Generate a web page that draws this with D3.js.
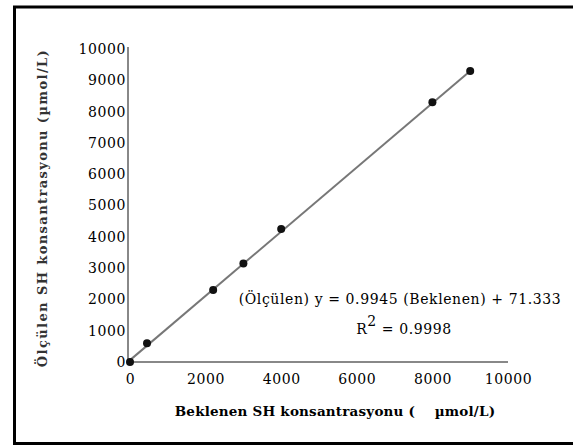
<!DOCTYPE html>
<html>
<head>
<meta charset="utf-8">
<script src="https://cdn.jsdelivr.net/npm/d3@7"></script>
<style>
  body { margin: 0; background: #fff; }
  svg { display: block; }
</style>
</head>
<body>
<svg width="573" height="446"></svg>
<script>
// measured points (expected vs measured SH, umol/L)
var expected = [0, 450, 2200, 3000, 4000, 8000, 9000];
var measured = [0, 600, 2300, 3150, 4250, 8300, 9300];
var xTicks = [0, 2000, 4000, 6000, 8000, 10000];
var yTicks = [0, 1000, 2000, 3000, 4000, 5000, 6000, 7000, 8000, 9000, 10000];
// trend line ends as drawn in the picture
var trendX = [0, 9000];
var trendY = [60, 9300];

var svg = d3.select("svg"),
    margin = {top: 49, right: 65, bottom: 84, left: 130},
    width = +svg.attr("width") - margin.left - margin.right,
    height = +svg.attr("height") - margin.top - margin.bottom;

// outer frame (right edge runs off the picture)
svg.append("rect")
    .attr("x", 14.5).attr("y", 7)
    .attr("width", 600).attr("height", 436.5)
    .attr("fill", "none")
    .attr("stroke", "#000")
    .attr("stroke-width", 3);

var x = d3.scaleLinear().domain([0, 10000]).range([0, 378]),
    y = d3.scaleLinear().domain([0, 10000]).range([height, 0]);

var g = svg.append("g")
    .attr("transform", "translate(" + margin.left + "," + margin.top + ")");

var font = "DejaVu Serif";

var xAxis = g.append("g")
    .attr("transform", "translate(0," + height + ")")
    .call(d3.axisBottom(x).tickValues(xTicks).tickSize(0).tickPadding(12).tickFormat(d3.format("d")));
xAxis.select(".domain").attr("stroke", "#888").attr("stroke-width", 2).attr("d", "M-2,0H" + x(10000));
xAxis.selectAll("text").attr("font-family", font).attr("font-size", 14)
    .attr("letter-spacing", 0.6).attr("fill", "#000");

var yAxis = g.append("g")
    .call(d3.axisLeft(y).tickValues(yTicks).tickSize(0).tickPadding(4).tickFormat(d3.format("d")));
yAxis.select(".domain").attr("stroke", "#888").attr("stroke-width", 2).attr("d", "M-2," + height + "V-2");
yAxis.selectAll("text").attr("font-family", font).attr("font-size", 14)
    .attr("letter-spacing", 0.6).attr("fill", "#000");

// trend line
var line = d3.line()
    .x(function (d) { return x(d[0]); })
    .y(function (d) { return y(d[1]); });
g.append("path")
    .datum(trendX.map(function (d, i) { return [d, trendY[i]]; }))
    .attr("d", line)
    .attr("fill", "none")
    .attr("stroke", "#777")
    .attr("stroke-width", 2);

var pts = expected.map(function (d, i) { return [d, measured[i]]; });
g.selectAll("circle.pt")
    .data(pts)
    .enter().append("circle")
    .attr("class", "pt")
    .attr("cx", function (d) { return x(d[0]); })
    .attr("cy", function (d) { return y(d[1]); })
    .attr("r", 4)
    .attr("fill", "#111");

// equation text
svg.append("text")
    .attr("x", 400).attr("y", 304)
    .attr("text-anchor", "middle")
    .attr("font-family", font).attr("font-size", 14).attr("letter-spacing", 0.6)
    .text("(Ölçülen) y = 0.9945 (Beklenen) + 71.333");

var r2 = svg.append("text")
    .attr("x", 404).attr("y", 334)
    .attr("text-anchor", "middle")
    .attr("font-family", font).attr("font-size", 14).attr("letter-spacing", 0.6);
r2.append("tspan").text("R");
r2.append("tspan").attr("dy", -8).text("2");
r2.append("tspan").attr("dy", 8).text(" = 0.9998");

// axis titles
svg.append("text")
    .attr("x", 335).attr("y", 416)
    .attr("text-anchor", "middle")
    .attr("font-family", font).attr("font-size", 13.5).attr("font-weight", "bold")
    .attr("letter-spacing", 0.2)
    .attr("xml:space", "preserve")
    .text("Beklenen SH konsantrasyonu (    µmol/L)");

svg.append("text")
    .attr("transform", "translate(47,208) rotate(-90)")
    .attr("text-anchor", "middle")
    .attr("font-family", font).attr("font-size", 13).attr("font-weight", "bold")
    .attr("letter-spacing", 1.4)
    .attr("fill", "#333")
    .text("Ölçülen SH konsantrasyonu (µmol/L)");
</script>
</body>
</html>
